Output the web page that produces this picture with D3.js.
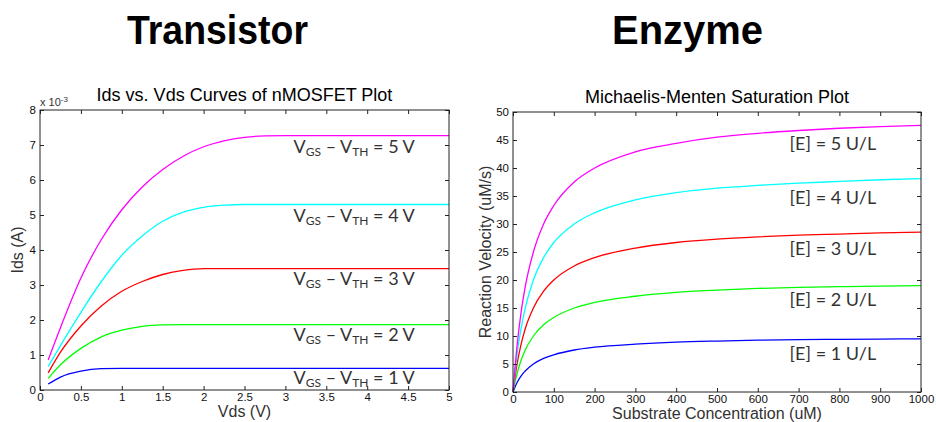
<!DOCTYPE html>
<html>
<head>
<meta charset="utf-8">
<script src="https://cdn.jsdelivr.net/npm/d3@7"></script>
<style>
  body { margin: 0; background: #fff; }
  svg { display: block; }
</style>
</head>
<body>
<div id="chart"></div>
<script>
// ---- transistor data (Ids in units of 1e-3 A) ----
const vds = [0.1, 0.25, 0.5, 0.75, 1, 1.25, 1.5, 1.75, 2, 2.25, 2.5, 2.75, 3, 5];
const ids1V = [0.17, 0.37, 0.54, 0.61, 0.62, 0.62, 0.62, 0.62, 0.62, 0.62, 0.62, 0.62, 0.62, 0.62];
const ids2V = [0.33, 0.72, 1.19, 1.52, 1.71, 1.82, 1.86, 1.87, 1.87, 1.87, 1.87, 1.87, 1.87, 1.87];
const ids3V = [0.49, 1.08, 1.83, 2.40, 2.82, 3.10, 3.30, 3.42, 3.47, 3.47, 3.47, 3.47, 3.47, 3.47];
const ids4V = [0.67, 1.27, 2.22, 3.10, 3.85, 4.40, 4.82, 5.08, 5.22, 5.28, 5.30, 5.30, 5.30, 5.30];
const ids5V = [0.86, 1.78, 3.20, 4.30, 5.15, 5.80, 6.30, 6.68, 6.95, 7.12, 7.22, 7.26, 7.27, 7.27];
const overdrive = [1, 2, 3, 4, 5];
const vdsTicks = [0, 0.5, 1, 1.5, 2, 2.5, 3, 3.5, 4, 4.5, 5];
const idsTicks = [0, 1, 2, 3, 4, 5, 6, 7, 8];
// label anchors (data units)
const transistorLabelX = 3.1;
const transistorLabelY = [0.17, 1.41, 3.0, 4.81, 6.78];

// ---- enzyme data ----
const substrate = [0, 5, 10, 20, 30, 50, 75, 100, 150, 200, 300, 400, 500, 600, 700, 800, 900, 1000];
const rate1 = [0, 0.9, 1.7, 2.9, 3.75, 5.0, 6.0, 6.65, 7.5, 8.0, 8.55, 8.9, 9.1, 9.25, 9.35, 9.4, 9.45, 9.5];
const rate2 = [0, 1.8, 3.3, 5.7, 7.5, 10, 12, 13.3, 15, 16, 17.1, 17.8, 18.2, 18.5, 18.7, 18.8, 18.9, 19.0];
const rate3 = [0, 2.7, 5.0, 8.6, 11.3, 15, 18, 20, 22.5, 24, 25.7, 26.7, 27.3, 27.7, 28.0, 28.2, 28.4, 28.55];
const rate4 = [0, 3.6, 6.7, 11.4, 15, 20, 24, 26.7, 30, 32, 34.3, 35.6, 36.4, 36.9, 37.3, 37.6, 37.9, 38.1];
const rate5 = [0, 4.5, 8.3, 14.3, 18.8, 25, 30, 33.3, 37.5, 40, 42.9, 44.4, 45.5, 46.2, 46.7, 47.1, 47.4, 47.6];
const enzymeLevels = [1, 2, 3, 4, 5];
const substrateTicks = d3.range(0, 1001, 100);
const rateTicks = d3.range(0, 51, 5);
const enzymeLabelX = 678;
const enzymeLabelY = [5.7, 15.3, 24.4, 33.5, 43.2];

const seriesColors = ["#0000ff", "#00ff00", "#ff0000", "#00ffff", "#ff00ff"];

const width = 936, height = 422;
const svg = d3.select("#chart").append("svg")
  .attr("width", width)
  .attr("height", height)
  .style("font-family", "'Liberation Sans', Arial, sans-serif");

// big headings
svg.append("text")
  .attr("x", 127).attr("y", 43.5)
  .attr("font-size", 40).attr("font-weight", "bold")
  .attr("textLength", 181).attr("lengthAdjust", "spacingAndGlyphs")
  .text("Transistor");
svg.append("text")
  .attr("x", 612).attr("y", 43.5)
  .attr("font-size", 40).attr("font-weight", "bold")
  .attr("textLength", 151).attr("lengthAdjust", "spacingAndGlyphs")
  .text("Enzyme");

function drawPanel(cfg) {
  const x = d3.scaleLinear().domain(cfg.xDomain).range([cfg.left, cfg.right]);
  const y = d3.scaleLinear().domain(cfg.yDomain).range([cfg.bottom, cfg.top]);
  const g = svg.append("g");
  const fmt = d => String(d);

  // curves
  const line = d3.line()
    .x(d => x(d[0]))
    .y(d => y(d[1]))
    .curve(d3.curveMonotoneX);
  cfg.series.forEach((vals, i) => {
    g.append("path")
      .datum(cfg.xs.map((v, j) => [v, vals[j]]))
      .attr("fill", "none")
      .attr("stroke", seriesColors[i])
      .attr("stroke-width", 1.3)
      .attr("d", line);
  });

  // axes with inward ticks, MATLAB style
  const tick = 4;
  g.append("g")
    .attr("transform", `translate(0,${cfg.bottom})`)
    .call(d3.axisBottom(x).tickValues(cfg.xTicks).tickFormat(fmt).tickSizeInner(-tick).tickSizeOuter(0).tickPadding(3))
    .call(a => a.select(".domain").remove());
  g.append("g")
    .attr("transform", `translate(0,${cfg.top})`)
    .call(d3.axisTop(x).tickValues(cfg.xTicks).tickSizeInner(-tick).tickSizeOuter(0).tickFormat(""))
    .call(a => a.select(".domain").remove());
  g.append("g")
    .attr("transform", `translate(${cfg.left},0)`)
    .call(d3.axisLeft(y).tickValues(cfg.yTicks).tickFormat(fmt).tickSizeInner(-tick).tickSizeOuter(0).tickPadding(4))
    .call(a => a.select(".domain").remove());
  g.append("g")
    .attr("transform", `translate(${cfg.right},0)`)
    .call(d3.axisRight(y).tickValues(cfg.yTicks).tickSizeInner(-tick).tickSizeOuter(0).tickFormat(""))
    .call(a => a.select(".domain").remove());
  g.selectAll(".tick line").attr("stroke", "#222");
  g.selectAll(".tick text")
    .attr("font-family", "'Liberation Sans', Arial, sans-serif")
    .attr("font-size", 11.5)
    .attr("fill", "#111");

  g.append("rect")
    .attr("x", cfg.left).attr("y", cfg.top)
    .attr("width", cfg.right - cfg.left).attr("height", cfg.bottom - cfg.top)
    .attr("fill", "none").attr("stroke", "#222").attr("stroke-width", 1);

  // title
  g.append("text")
    .attr("x", (cfg.left + cfg.right) / 2).attr("y", cfg.top - 9)
    .attr("text-anchor", "middle")
    .attr("font-size", 18)
    .attr("fill", "#000")
    .text(cfg.title);

  // axis labels
  g.append("text")
    .attr("x", (cfg.left + cfg.right) / 2).attr("y", cfg.bottom + 27)
    .attr("text-anchor", "middle")
    .attr("font-size", 16)
    .attr("fill", "#333")
    .text(cfg.xLabel);
  g.append("text")
    .attr("transform", `translate(${cfg.left - cfg.yLabelOffset},${(cfg.top + cfg.bottom) / 2}) rotate(-90)`)
    .attr("text-anchor", "middle")
    .attr("font-size", 16)
    .attr("fill", "#333")
    .text(cfg.yLabel);

  return { g, x, y };
}

// ---- transistor panel ----
const left = drawPanel({
  left: 40, right: 449, top: 110, bottom: 390,
  xDomain: [0, 5], yDomain: [0, 8],
  xTicks: vdsTicks, yTicks: idsTicks,
  xs: vds,
  series: [ids1V, ids2V, ids3V, ids4V, ids5V],
  title: "Ids vs. Vds Curves of nMOSFET Plot",
  xLabel: "Vds (V)",
  yLabel: "Ids (A)",
  yLabelOffset: 17
});

// exponent marker
const expo = left.g.append("text")
  .attr("x", 40).attr("y", 106)
  .attr("font-size", 11)
  .attr("fill", "#333");
expo.append("tspan").text("x 10");
expo.append("tspan").attr("dy", -4).attr("font-size", 8).text("-3");

overdrive.forEach((v, i) => {
  const t = left.g.append("text")
    .attr("x", left.x(transistorLabelX))
    .attr("y", left.y(transistorLabelY[i]))
    .attr("font-family", "Lato, 'Open Sans', sans-serif")
    .attr("font-size", 18)
    .attr("fill", "#333");
  t.append("tspan").text("V");
  t.append("tspan").attr("font-size", 12).attr("dy", 3).text("GS");
  t.append("tspan").attr("dy", -3).text(" \u2013 V");
  t.append("tspan").attr("font-size", 12).attr("dy", 3).text("TH");
  t.append("tspan").attr("dy", -3).text(` = ${v} V`);
});

// ---- enzyme panel ----
const right = drawPanel({
  left: 513, right: 921, top: 112, bottom: 392,
  xDomain: [0, 1000], yDomain: [0, 50],
  xTicks: substrateTicks, yTicks: rateTicks,
  xs: substrate,
  series: [rate1, rate2, rate3, rate4, rate5],
  title: "Michaelis-Menten Saturation Plot",
  xLabel: "Substrate Concentration (uM)",
  yLabel: "Reaction Velocity (uM/s)",
  yLabelOffset: 22
});

enzymeLevels.forEach((e, i) => {
  right.g.append("text")
    .attr("x", right.x(enzymeLabelX))
    .attr("y", right.y(enzymeLabelY[i]))
    .attr("font-family", "Lato, 'Open Sans', sans-serif")
    .attr("font-size", 18)
    .attr("fill", "#333")
    .text(`[E] = ${e} U/L`);
});
</script>
</body>
</html>
